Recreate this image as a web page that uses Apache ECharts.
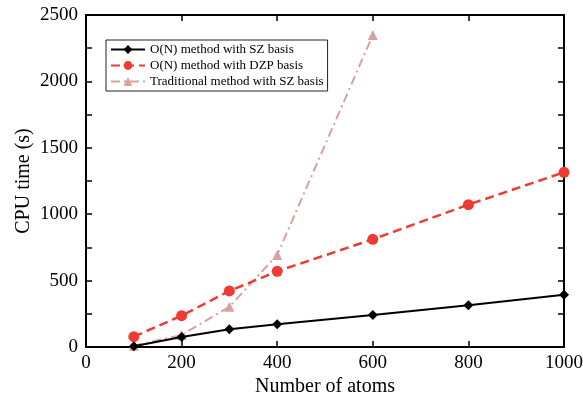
<!DOCTYPE html>
<html><head><meta charset="utf-8">
<script src="https://cdn.jsdelivr.net/npm/echarts@6/dist/echarts.min.js"></script>
<style>html,body{margin:0;padding:0;background:#fff}#c{width:583px;height:399px}</style>
</head><body><div id="c"></div>
<script>
const atomsSZ = [100, 200, 300, 400, 600, 800, 1000];
const cpuSZ = [5, 75, 133, 171, 241, 314, 394];
const atomsDZP = [100, 200, 300, 400, 600, 800, 1000];
const cpuDZP = [78, 236, 422, 570, 811, 1072, 1315];
const atomsTrad = [100, 200, 300, 400, 600];
const cpuTrad = [10, 90, 303, 693, 2349];
const seriesNames = ['O(N) method with SZ basis', 'O(N) method with DZP basis', 'Traditional method with SZ basis'];

const pair = (xs, ys) => xs.map((x, i) => [x, ys[i]]);
const font = 'Liberation Serif';
const chart = echarts.init(document.getElementById('c'));
const axisCommon = {
  axisLine: {show: true, onZero: false, lineStyle: {color: '#000', width: 2}},
  axisTick: {show: true, inside: true, length: 6, lineStyle: {color: '#000', width: 1.5}},
  splitLine: {show: false}
};
const plain = v => String(v);
chart.setOption({
  animation: false,
  grid: {left: 86, right: 19, top: 15, bottom: 52, containLabel: false, outerBoundsMode: 'none'},
  legend: {
    left: 106, top: 40, orient: 'vertical', itemGap: 3, itemWidth: 34, itemHeight: 11,
    borderColor: '#222', borderWidth: 1, padding: [3, 4, 3, 4],
    textStyle: {fontFamily: font, fontSize: 13, color: '#000'},
    data: seriesNames
  },
  xAxis: [
    Object.assign({type: 'value', min: 0, max: 1000, interval: 200, position: 'bottom',
      name: 'Number of atoms', nameLocation: 'middle', nameGap: 30, nameMoveOverlap: false,
      nameTextStyle: {fontFamily: font, fontSize: 20, color: '#000'},
      axisLabel: {fontFamily: font, fontSize: 19, color: '#000', margin: 7, formatter: plain}}, axisCommon),
    Object.assign({type: 'value', min: 0, max: 1000, interval: 200, position: 'top',
      axisLabel: {show: false}}, axisCommon)
  ],
  yAxis: [
    Object.assign({type: 'value', min: 0, max: 2500, interval: 500, position: 'left',
      name: 'CPU time (s)', nameLocation: 'middle', nameGap: 52, nameMoveOverlap: false,
      nameTextStyle: {fontFamily: font, fontSize: 20, color: '#000'},
      minorTick: {show: true, splitNumber: 2, length: 6, lineStyle: {color: '#000', width: 1.5}},
      axisLabel: {fontFamily: font, fontSize: 19, color: '#000', margin: 8, formatter: plain}}, axisCommon),
    Object.assign({type: 'value', min: 0, max: 2500, interval: 500, position: 'right',
      minorTick: {show: true, splitNumber: 2, length: 6, lineStyle: {color: '#000', width: 1.5}},
      axisLabel: {show: false}}, axisCommon)
  ],
  series: [
    {name: seriesNames[2], type: 'line', data: pair(atomsTrad, cpuTrad), z: 1,
      symbol: 'triangle', symbolSize: 10,
      itemStyle: {color: '#d9a0a2'},
      lineStyle: {color: '#d9a0a2', width: 2, type: [9, 4, 2, 4]}},
    {name: seriesNames[1], type: 'line', data: pair(atomsDZP, cpuDZP), z: 2,
      symbol: 'circle', symbolSize: 11,
      itemStyle: {color: '#f03a32'},
      lineStyle: {color: '#f03a32', width: 2.5, type: [9, 5]}},
    {name: seriesNames[0], type: 'line', data: pair(atomsSZ, cpuSZ), z: 3,
      symbol: 'diamond', symbolSize: 10,
      itemStyle: {color: '#000'},
      lineStyle: {color: '#000', width: 2}}
  ]
});
</script></body></html>
